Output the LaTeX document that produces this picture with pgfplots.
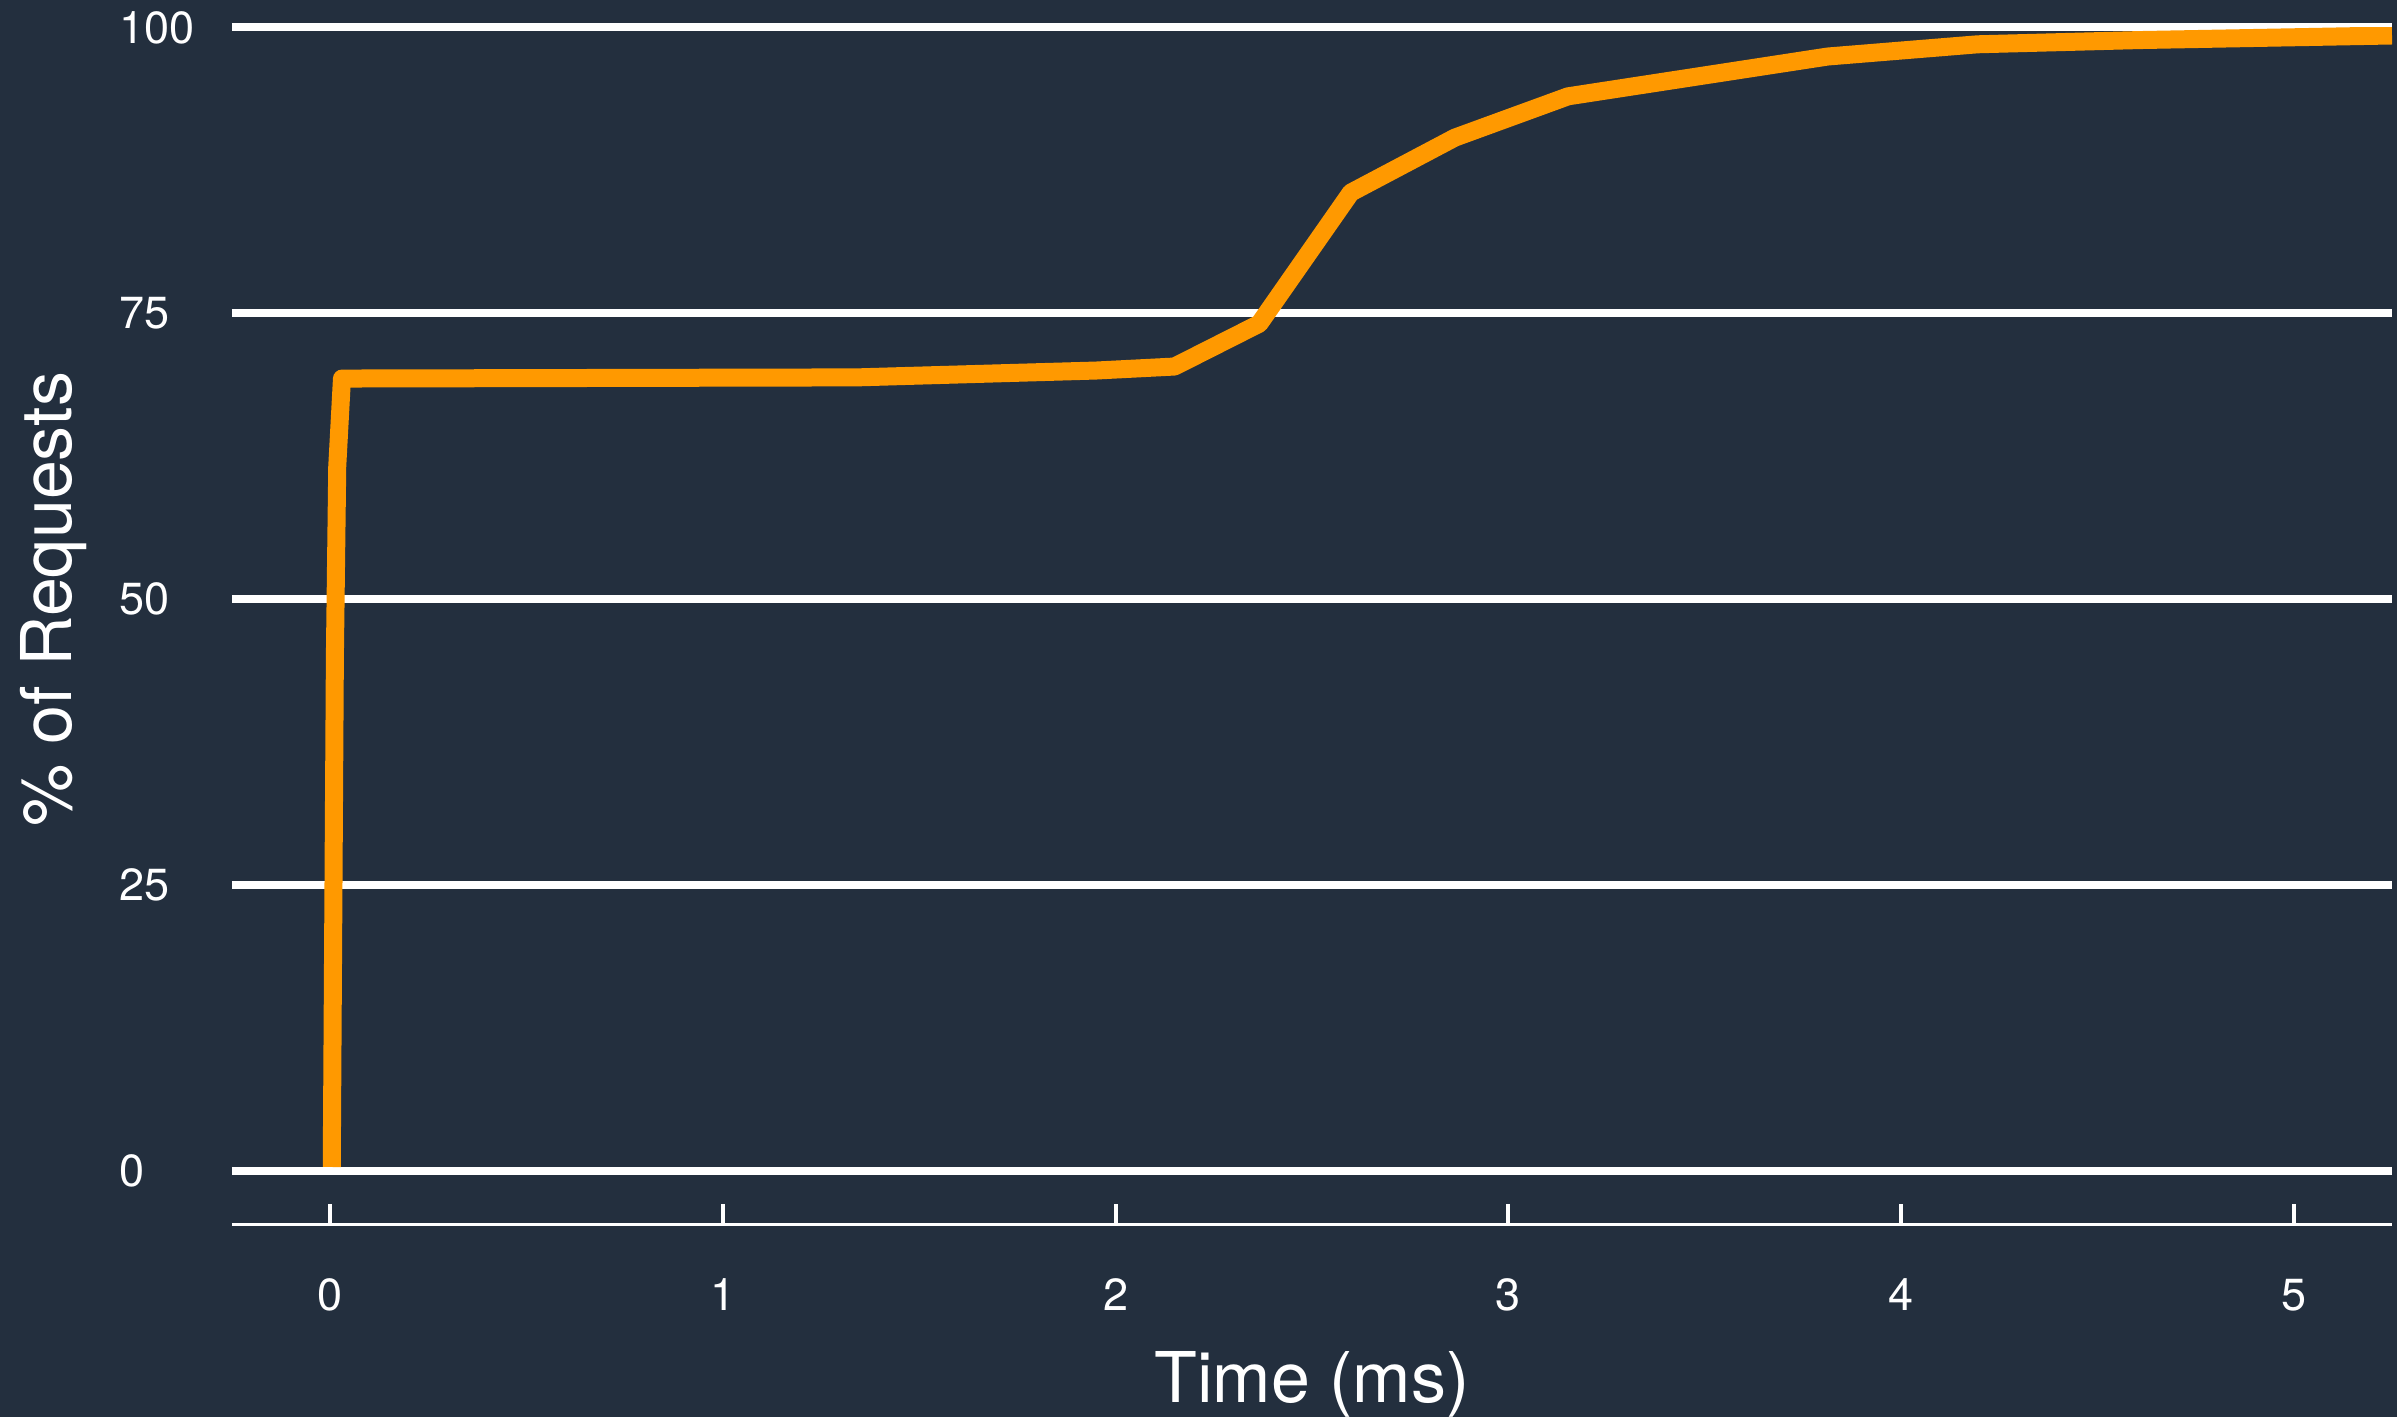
\documentclass[border=0pt]{standalone}
\usepackage{fontspec}
\setmainfont{TeX Gyre Heros}
\usepackage{pgfplots}
\pgfplotsset{compat=1.18}
\definecolor{bg}{HTML}{232F3E}
\definecolor{aws}{HTML}{FF9900}
\begin{document}
\begin{tikzpicture}
\fill[bg] (-116bp,-96.25bp) rectangle (1082.5bp,612.25bp);
\useasboundingbox (-116bp,-96.25bp) rectangle (1082.5bp,612.25bp);
\begin{axis}[
 at={(0,0)}, anchor=south west,
 scale only axis, width=1080bp, height=598.5bp,
 xmin=-0.25, xmax=5.25, ymin=-4.679, ymax=100,
 axis x line*=bottom, axis y line*=left,
 y axis line style={draw=none},
 x axis line style={white, line width=1.8bp},
 xtick={0,1,2,3,4,5}, ytick={0,25,50,75,100},
 tick align=inside,
 major tick length=10.5bp,
 xtick style={white, line width=2bp},
 ytick style={draw=none},
 ymajorgrids, major grid style={white, line width=4bp},
 /pgf/number format/assume math mode=true,
 ticklabel style={font=\fontsize{22.5bp}{27bp}\selectfont, text=white, inner sep=0pt},
 xticklabel style={anchor=base, yshift=-42.75bp},
 yticklabel style={anchor=west, xshift=-56.5bp},
 xlabel={Time (ms)}, ylabel={\% of Requests},
 label style={font=\fontsize{35bp}{42bp}\selectfont, text=white, inner sep=0pt},
 xlabel style={at={([yshift=-88.75bp]rel axis cs:0.5,0)}, anchor=base},
 ylabel style={at={([xshift=-89.25bp]rel axis cs:0,0.5224)}, anchor=center},
]
\addplot[aws, line width=9bp, line join=round, line cap=butt] coordinates {
(0.004,0.35) (0.012,45) (0.018,61.6) (0.03,69.3) (1.34,69.4) (1.95,70.0)
(2.15,70.35) (2.366,74.1) (2.599,85.56) (2.864,90.37) (3.152,93.98)
(3.813,97.46) (4.195,98.53) (4.607,98.9) (5.25,99.3)
};
\end{axis}
\end{tikzpicture}
\end{document}
